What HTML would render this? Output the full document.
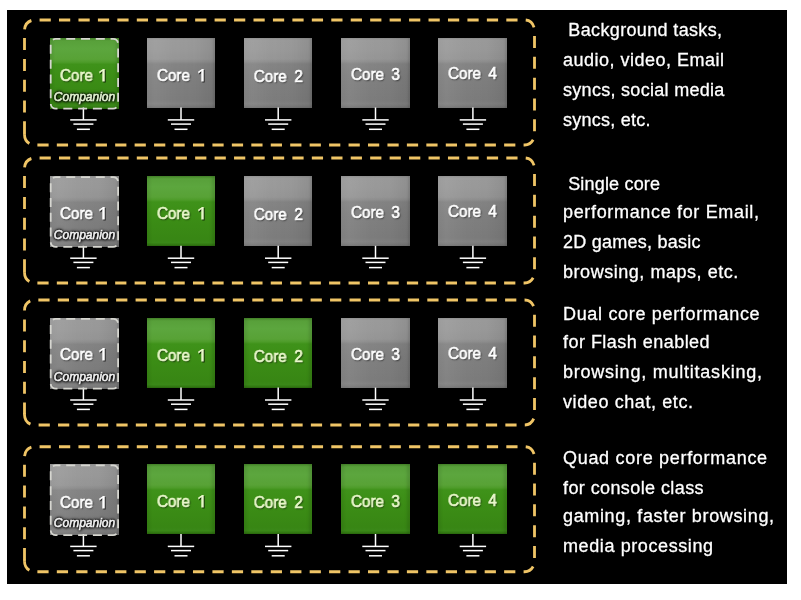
<!DOCTYPE html><html><head><meta charset="utf-8"><style>
*{margin:0;padding:0;box-sizing:border-box}
html,body{width:801px;height:600px;background:#fff;overflow:hidden}
body{position:relative;font-family:"Liberation Sans",sans-serif}
.bk{position:absolute;left:7px;top:10px;width:780px;height:574px;background:#000}
svg.ov{position:absolute;left:0;top:0}
.box{position:absolute;height:70px;}
.gray{background:linear-gradient(to right,rgba(255,255,255,.03) 0%,rgba(255,255,255,.07) 12%,rgba(255,255,255,.02) 40%,rgba(0,0,0,0) 70%,rgba(0,0,0,.07) 100%),linear-gradient(to bottom,#909090 0%,#999999 3%,#989898 15%,#949494 30%,#8c8c8c 34%,#828282 37%,#7e7e7e 55%,#7a7a7a 88%,#7f7f7f 94%,#727272 100%);box-shadow:inset -2px 0 2px rgba(0,0,0,.1)}
.green{background:linear-gradient(to bottom,#4a8c2c 0%,#58a03a 4%,#5ca63e 15%,#58a236 30%,#4e9c2a 34%,#3f921a 37%,#3c8e16 55%,#388614 90%,#3a8818 95%,#2f7210 100%);box-shadow:inset -3px 0 3px rgba(0,0,0,.12),inset 3px 0 3px rgba(0,0,0,.08)}
.lbl{position:absolute;left:-20px;width:calc(100% + 40px);text-align:center;font-size:16px;line-height:15px;font-weight:normal;-webkit-text-stroke:0.7px currentColor;color:#fff;white-space:pre;word-spacing:3.5px;transform:scaleX(0.95);will-change:transform;text-shadow:1px 1px 1.5px rgba(0,0,0,.7)}
.green .lbl{color:#eaf8cc}
.one{display:inline-block;width:0.556em;height:0.78em;vertical-align:baseline;overflow:visible;filter:drop-shadow(1px 1px 0.75px rgba(0,0,0,.7))}
.comp{position:absolute;left:-10px;width:calc(100% + 20px);text-align:center;font-size:12px;line-height:12px;font-style:italic;color:#f4f4f4;white-space:pre;-webkit-text-stroke:0.55px currentColor;will-change:transform;text-shadow:0 0 1px #000,0 0 2px #000,0 0 3px #000,0 0 3px #000,0 0 4px #000,1px 1px 3px #000}
.green .comp{color:#e4f5d2}
.txt{position:absolute;left:563px;font-size:18px;color:#fff;white-space:pre;line-height:20px;-webkit-text-stroke:0.3px #fff}
</style></head><body>
<div class="bk"></div>
<div class="box green" style="left:49.8px;top:37.9px;width:69.0px;height:70.8px"><div class="lbl" style="top:29.7px;margin-left:-0.8px;word-spacing:1.5px">Core <svg class="one" viewBox="0 0 556 780" preserveAspectRatio="none"><path d="M270 0H425V780H270Z M305 4L425 4L95 280L60 170Z" fill="currentColor"/></svg></div><div class="comp" style="top:52.9px">Companion</div></div>
<div class="box gray" style="left:146.6px;top:37.5px;width:68.8px"><div class="lbl" style="top:30.1px">Core <svg class="one" viewBox="0 0 556 780" preserveAspectRatio="none"><path d="M270 0H425V780H270Z M305 4L425 4L95 280L60 170Z" fill="currentColor"/></svg></div></div>
<div class="box gray" style="left:243.9px;top:37.5px;width:68.6px"><div class="lbl" style="top:31.2px">Core 2</div></div>
<div class="box gray" style="left:341.0px;top:37.5px;width:69.0px"><div class="lbl" style="top:29.6px">Core 3</div></div>
<div class="box gray" style="left:438.4px;top:37.5px;width:69.0px"><div class="lbl" style="top:28.5px">Core 4</div></div>
<div class="box gray" style="left:49.8px;top:176.2px;width:69.0px;height:70.8px"><div class="lbl" style="top:29.7px;margin-left:-0.8px;word-spacing:1.5px">Core <svg class="one" viewBox="0 0 556 780" preserveAspectRatio="none"><path d="M270 0H425V780H270Z M305 4L425 4L95 280L60 170Z" fill="currentColor"/></svg></div><div class="comp" style="top:52.9px">Companion</div></div>
<div class="box green" style="left:146.6px;top:175.8px;width:68.8px"><div class="lbl" style="top:30.1px">Core <svg class="one" viewBox="0 0 556 780" preserveAspectRatio="none"><path d="M270 0H425V780H270Z M305 4L425 4L95 280L60 170Z" fill="currentColor"/></svg></div></div>
<div class="box gray" style="left:243.9px;top:175.8px;width:68.6px"><div class="lbl" style="top:31.2px">Core 2</div></div>
<div class="box gray" style="left:341.0px;top:175.8px;width:69.0px"><div class="lbl" style="top:29.6px">Core 3</div></div>
<div class="box gray" style="left:438.4px;top:175.8px;width:69.0px"><div class="lbl" style="top:28.5px">Core 4</div></div>
<div class="box gray" style="left:49.8px;top:318.0px;width:69.0px;height:70.8px"><div class="lbl" style="top:29.0px;margin-left:-0.8px;word-spacing:1.5px">Core <svg class="one" viewBox="0 0 556 780" preserveAspectRatio="none"><path d="M270 0H425V780H270Z M305 4L425 4L95 280L60 170Z" fill="currentColor"/></svg></div><div class="comp" style="top:52.9px">Companion</div></div>
<div class="box green" style="left:146.6px;top:317.6px;width:68.8px"><div class="lbl" style="top:30.1px">Core <svg class="one" viewBox="0 0 556 780" preserveAspectRatio="none"><path d="M270 0H425V780H270Z M305 4L425 4L95 280L60 170Z" fill="currentColor"/></svg></div></div>
<div class="box green" style="left:243.9px;top:317.6px;width:68.6px"><div class="lbl" style="top:31.2px">Core 2</div></div>
<div class="box gray" style="left:341.0px;top:317.6px;width:69.0px"><div class="lbl" style="top:29.6px">Core 3</div></div>
<div class="box gray" style="left:438.4px;top:317.6px;width:69.0px"><div class="lbl" style="top:28.5px">Core 4</div></div>
<div class="box gray" style="left:49.8px;top:464.4px;width:69.0px;height:70.8px"><div class="lbl" style="top:30.5px;margin-left:-0.8px;word-spacing:1.5px">Core <svg class="one" viewBox="0 0 556 780" preserveAspectRatio="none"><path d="M270 0H425V780H270Z M305 4L425 4L95 280L60 170Z" fill="currentColor"/></svg></div><div class="comp" style="top:52.9px">Companion</div></div>
<div class="box green" style="left:146.6px;top:464.0px;width:68.8px"><div class="lbl" style="top:30.1px">Core <svg class="one" viewBox="0 0 556 780" preserveAspectRatio="none"><path d="M270 0H425V780H270Z M305 4L425 4L95 280L60 170Z" fill="currentColor"/></svg></div></div>
<div class="box green" style="left:243.9px;top:464.0px;width:68.6px"><div class="lbl" style="top:31.2px">Core 2</div></div>
<div class="box green" style="left:341.0px;top:464.0px;width:69.0px"><div class="lbl" style="top:29.6px">Core 3</div></div>
<div class="box green" style="left:438.4px;top:464.0px;width:69.0px"><div class="lbl" style="top:28.5px">Core 4</div></div>
<svg class="ov" width="801" height="600" viewBox="0 0 801 600">
<path transform="scale(0.935,1)" d="M26.20,134.50 V30.50 A10.5,10.5 0 0 1 36.70,20.00 H561.16 A10.5,10.5 0 0 1 571.66,30.50 V134.50 A10.5,10.5 0 0 1 561.16,145.00 H36.70 A10.5,10.5 0 0 1 26.20,134.50" fill="none" stroke="#f0c566" stroke-width="3" stroke-dasharray="12 8.8" stroke-dashoffset="-1.2"/>
<line x1="24.5" y1="134.80" x2="24.5" y2="132.90" stroke="#f0c566" stroke-width="2.8"/>
<path transform="scale(0.935,1)" d="M26.20,272.50 V168.50 A10.5,10.5 0 0 1 36.70,158.00 H561.16 A10.5,10.5 0 0 1 571.66,168.50 V272.50 A10.5,10.5 0 0 1 561.16,283.00 H36.70 A10.5,10.5 0 0 1 26.20,272.50" fill="none" stroke="#f0c566" stroke-width="3" stroke-dasharray="12 8.8" stroke-dashoffset="-1.2"/>
<line x1="24.5" y1="272.80" x2="24.5" y2="270.90" stroke="#f0c566" stroke-width="2.8"/>
<path transform="scale(0.935,1)" d="M26.20,414.50 V310.50 A10.5,10.5 0 0 1 36.70,300.00 H561.16 A10.5,10.5 0 0 1 571.66,310.50 V414.50 A10.5,10.5 0 0 1 561.16,425.00 H36.70 A10.5,10.5 0 0 1 26.20,414.50" fill="none" stroke="#f0c566" stroke-width="3" stroke-dasharray="12 8.8" stroke-dashoffset="0.1"/>
<line x1="24.5" y1="414.80" x2="24.5" y2="412.90" stroke="#f0c566" stroke-width="2.8"/>
<path transform="scale(0.935,1)" d="M26.20,561.20 V457.20 A10.5,10.5 0 0 1 36.70,446.70 H561.16 A10.5,10.5 0 0 1 571.66,457.20 V561.20 A10.5,10.5 0 0 1 561.16,571.70 H36.70 A10.5,10.5 0 0 1 26.20,561.20" fill="none" stroke="#f0c566" stroke-width="3" stroke-dasharray="12 8.8" stroke-dashoffset="-1.2"/>
<line x1="24.5" y1="561.50" x2="24.5" y2="559.60" stroke="#f0c566" stroke-width="2.8"/>
<g stroke="#fff" stroke-width="1.5" fill="none"><line x1="83.4" y1="107.5" x2="83.4" y2="119.9"/><line x1="70.2" y1="119.9" x2="96.6" y2="119.9"/><line x1="73.4" y1="124.1" x2="93.4" y2="124.1"/><line x1="76.9" y1="129.3" x2="89.9" y2="129.3"/></g>
<rect x="50.7" y="38.8" width="67.4" height="69.8" rx="5" fill="none" stroke="#d6d6d0" stroke-width="1.8" stroke-dasharray="9 5.8" stroke-dashoffset="4.3"/>
<g stroke="#fff" stroke-width="1.5" fill="none"><line x1="181.0" y1="107.5" x2="181.0" y2="119.9"/><line x1="167.8" y1="119.9" x2="194.2" y2="119.9"/><line x1="171.0" y1="124.1" x2="191.0" y2="124.1"/><line x1="174.5" y1="129.3" x2="187.5" y2="129.3"/></g>
<g stroke="#fff" stroke-width="1.5" fill="none"><line x1="278.2" y1="107.5" x2="278.2" y2="119.9"/><line x1="265.0" y1="119.9" x2="291.4" y2="119.9"/><line x1="268.2" y1="124.1" x2="288.2" y2="124.1"/><line x1="271.7" y1="129.3" x2="284.7" y2="129.3"/></g>
<g stroke="#fff" stroke-width="1.5" fill="none"><line x1="375.5" y1="107.5" x2="375.5" y2="119.9"/><line x1="362.3" y1="119.9" x2="388.7" y2="119.9"/><line x1="365.5" y1="124.1" x2="385.5" y2="124.1"/><line x1="369.0" y1="129.3" x2="382.0" y2="129.3"/></g>
<g stroke="#fff" stroke-width="1.5" fill="none"><line x1="472.9" y1="107.5" x2="472.9" y2="119.9"/><line x1="459.7" y1="119.9" x2="486.1" y2="119.9"/><line x1="462.9" y1="124.1" x2="482.9" y2="124.1"/><line x1="466.4" y1="129.3" x2="479.4" y2="129.3"/></g>
<g stroke="#fff" stroke-width="1.5" fill="none"><line x1="83.4" y1="245.8" x2="83.4" y2="258.2"/><line x1="70.2" y1="258.2" x2="96.6" y2="258.2"/><line x1="73.4" y1="262.40000000000003" x2="93.4" y2="262.40000000000003"/><line x1="76.9" y1="267.6" x2="89.9" y2="267.6"/></g>
<rect x="50.7" y="177.1" width="67.4" height="69.8" rx="5" fill="none" stroke="#d6d6d0" stroke-width="1.8" stroke-dasharray="9 5.8" stroke-dashoffset="4.3"/>
<g stroke="#fff" stroke-width="1.5" fill="none"><line x1="181.0" y1="245.8" x2="181.0" y2="258.2"/><line x1="167.8" y1="258.2" x2="194.2" y2="258.2"/><line x1="171.0" y1="262.40000000000003" x2="191.0" y2="262.40000000000003"/><line x1="174.5" y1="267.6" x2="187.5" y2="267.6"/></g>
<g stroke="#fff" stroke-width="1.5" fill="none"><line x1="278.2" y1="245.8" x2="278.2" y2="258.2"/><line x1="265.0" y1="258.2" x2="291.4" y2="258.2"/><line x1="268.2" y1="262.40000000000003" x2="288.2" y2="262.40000000000003"/><line x1="271.7" y1="267.6" x2="284.7" y2="267.6"/></g>
<g stroke="#fff" stroke-width="1.5" fill="none"><line x1="375.5" y1="245.8" x2="375.5" y2="258.2"/><line x1="362.3" y1="258.2" x2="388.7" y2="258.2"/><line x1="365.5" y1="262.40000000000003" x2="385.5" y2="262.40000000000003"/><line x1="369.0" y1="267.6" x2="382.0" y2="267.6"/></g>
<g stroke="#fff" stroke-width="1.5" fill="none"><line x1="472.9" y1="245.8" x2="472.9" y2="258.2"/><line x1="459.7" y1="258.2" x2="486.1" y2="258.2"/><line x1="462.9" y1="262.40000000000003" x2="482.9" y2="262.40000000000003"/><line x1="466.4" y1="267.6" x2="479.4" y2="267.6"/></g>
<g stroke="#fff" stroke-width="1.5" fill="none"><line x1="83.4" y1="387.6" x2="83.4" y2="400.0"/><line x1="70.2" y1="400.0" x2="96.6" y2="400.0"/><line x1="73.4" y1="404.20000000000005" x2="93.4" y2="404.20000000000005"/><line x1="76.9" y1="409.40000000000003" x2="89.9" y2="409.40000000000003"/></g>
<rect x="50.7" y="318.9" width="67.4" height="69.8" rx="5" fill="none" stroke="#d6d6d0" stroke-width="1.8" stroke-dasharray="9 5.8" stroke-dashoffset="4.3"/>
<g stroke="#fff" stroke-width="1.5" fill="none"><line x1="181.0" y1="387.6" x2="181.0" y2="400.0"/><line x1="167.8" y1="400.0" x2="194.2" y2="400.0"/><line x1="171.0" y1="404.20000000000005" x2="191.0" y2="404.20000000000005"/><line x1="174.5" y1="409.40000000000003" x2="187.5" y2="409.40000000000003"/></g>
<g stroke="#fff" stroke-width="1.5" fill="none"><line x1="278.2" y1="387.6" x2="278.2" y2="400.0"/><line x1="265.0" y1="400.0" x2="291.4" y2="400.0"/><line x1="268.2" y1="404.20000000000005" x2="288.2" y2="404.20000000000005"/><line x1="271.7" y1="409.40000000000003" x2="284.7" y2="409.40000000000003"/></g>
<g stroke="#fff" stroke-width="1.5" fill="none"><line x1="375.5" y1="387.6" x2="375.5" y2="400.0"/><line x1="362.3" y1="400.0" x2="388.7" y2="400.0"/><line x1="365.5" y1="404.20000000000005" x2="385.5" y2="404.20000000000005"/><line x1="369.0" y1="409.40000000000003" x2="382.0" y2="409.40000000000003"/></g>
<g stroke="#fff" stroke-width="1.5" fill="none"><line x1="472.9" y1="387.6" x2="472.9" y2="400.0"/><line x1="459.7" y1="400.0" x2="486.1" y2="400.0"/><line x1="462.9" y1="404.20000000000005" x2="482.9" y2="404.20000000000005"/><line x1="466.4" y1="409.40000000000003" x2="479.4" y2="409.40000000000003"/></g>
<g stroke="#fff" stroke-width="1.5" fill="none"><line x1="83.4" y1="534.0" x2="83.4" y2="546.4"/><line x1="70.2" y1="546.4" x2="96.6" y2="546.4"/><line x1="73.4" y1="550.6" x2="93.4" y2="550.6"/><line x1="76.9" y1="555.8" x2="89.9" y2="555.8"/></g>
<rect x="50.7" y="465.3" width="67.4" height="69.8" rx="5" fill="none" stroke="#d6d6d0" stroke-width="1.8" stroke-dasharray="9 5.8" stroke-dashoffset="4.3"/>
<g stroke="#fff" stroke-width="1.5" fill="none"><line x1="181.0" y1="534.0" x2="181.0" y2="546.4"/><line x1="167.8" y1="546.4" x2="194.2" y2="546.4"/><line x1="171.0" y1="550.6" x2="191.0" y2="550.6"/><line x1="174.5" y1="555.8" x2="187.5" y2="555.8"/></g>
<g stroke="#fff" stroke-width="1.5" fill="none"><line x1="278.2" y1="534.0" x2="278.2" y2="546.4"/><line x1="265.0" y1="546.4" x2="291.4" y2="546.4"/><line x1="268.2" y1="550.6" x2="288.2" y2="550.6"/><line x1="271.7" y1="555.8" x2="284.7" y2="555.8"/></g>
<g stroke="#fff" stroke-width="1.5" fill="none"><line x1="375.5" y1="534.0" x2="375.5" y2="546.4"/><line x1="362.3" y1="546.4" x2="388.7" y2="546.4"/><line x1="365.5" y1="550.6" x2="385.5" y2="550.6"/><line x1="369.0" y1="555.8" x2="382.0" y2="555.8"/></g>
<g stroke="#fff" stroke-width="1.5" fill="none"><line x1="472.9" y1="534.0" x2="472.9" y2="546.4"/><line x1="459.7" y1="546.4" x2="486.1" y2="546.4"/><line x1="462.9" y1="550.6" x2="482.9" y2="550.6"/><line x1="466.4" y1="555.8" x2="479.4" y2="555.8"/></g>
</svg>
<div class="txt" style="top:20px;letter-spacing:0.353px"> Background tasks,</div>
<div class="txt" style="top:50px;letter-spacing:0.494px">audio, video, Email</div>
<div class="txt" style="top:80px;letter-spacing:0.294px">syncs, social media</div>
<div class="txt" style="top:110px;letter-spacing:0.250px">syncs, etc.</div>
<div class="txt" style="top:174px;letter-spacing:0.182px"> Single core</div>
<div class="txt" style="top:202px;letter-spacing:0.662px">performance for Email,</div>
<div class="txt" style="top:232px;letter-spacing:0.250px">2D games, basic</div>
<div class="txt" style="top:262px;letter-spacing:0.537px">browsing, maps, etc.</div>
<div class="txt" style="top:304px;letter-spacing:0.675px">Dual core performance</div>
<div class="txt" style="top:332px;letter-spacing:0.469px">for Flash enabled</div>
<div class="txt" style="top:362px;letter-spacing:0.768px">browsing, multitasking,</div>
<div class="txt" style="top:392px;letter-spacing:0.600px">video chat, etc.</div>
<div class="txt" style="top:448px;letter-spacing:0.700px">Quad core performance</div>
<div class="txt" style="top:478px;letter-spacing:0.406px">for console class</div>
<div class="txt" style="top:506px;letter-spacing:0.652px">gaming, faster browsing,</div>
<div class="txt" style="top:536px;letter-spacing:0.600px">media processing</div>
</body></html>
